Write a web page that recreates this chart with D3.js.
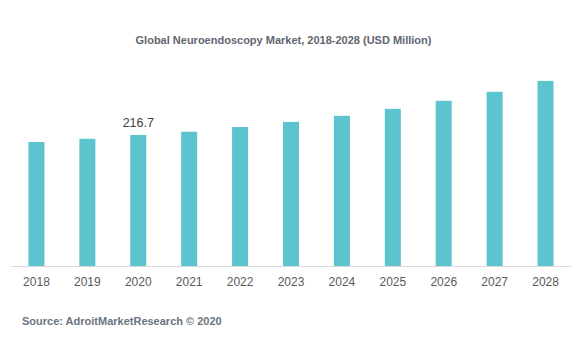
<!DOCTYPE html>
<html>
<head>
<meta charset="utf-8">
<script src="https://cdn.jsdelivr.net/npm/d3@7"></script>
<style>
  body { margin: 0; background: #fff; }
  text { font-family: "Liberation Sans", Arial, sans-serif; }
</style>
</head>
<body>
<script>
var svgWidth = 587;
var svgHeight = 339;

var years = ["2018", "2019", "2020", "2021", "2022", "2023", "2024", "2025", "2026", "2027", "2028"];
var marketValues = [205.0, 210.3, 216.7, 222.0, 229.8, 238.2, 248.3, 259.8, 273.1, 288.0, 306.0];
var labelledYears = ["2020"];

var svg = d3.select("body")
  .append("svg")
  .attr("width", svgWidth)
  .attr("height", svgHeight);

var x = d3.scaleBand().domain(years).range([11, 571]).padding(0);
var y = d3.scaleLinear().domain([0, 350]).range([266, 54.3]);
var barWidth = 16;

// title
svg.append("text")
  .attr("x", 283.5)
  .attr("y", 44)
  .attr("text-anchor", "middle")
  .attr("font-size", 11)
  .attr("font-weight", "bold")
  .attr("fill", "#5f6670")
  .text("Global Neuroendoscopy Market, 2018-2028 (USD Million)");

// bars
svg.selectAll(".bar")
  .data(marketValues)
  .enter()
  .append("rect")
  .attr("class", "bar")
  .attr("x", function(d, i) { return x(years[i]) + x.bandwidth() / 2 - barWidth / 2; })
  .attr("y", function(d) { return y(d); })
  .attr("width", barWidth)
  .attr("height", function(d) { return y(0) - y(d); })
  .attr("fill", "#5bc4ce");

// value label
svg.selectAll(".val")
  .data(marketValues.filter(function(d, i) { return labelledYears.indexOf(years[i]) >= 0; }))
  .enter()
  .append("text")
  .attr("class", "val")
  .attr("x", function(d) { return x(years[marketValues.indexOf(d)]) + x.bandwidth() / 2; })
  .attr("y", function(d) { return y(d) - 8; })
  .attr("text-anchor", "middle")
  .attr("font-size", 12.5)
  .attr("fill", "#404040")
  .text(function(d) { return d.toFixed(1); });

// x axis
var bottomAxis = d3.axisBottom(x).tickSize(0).tickPadding(11);
var axisG = svg.append("g")
  .attr("transform", "translate(0, 266)")
  .call(bottomAxis);
axisG.select(".domain").attr("stroke", "#d9d9d9").attr("stroke-width", 1.2);
axisG.selectAll("text")
  .attr("font-size", 12)
  .attr("fill", "#595959")
  .style("font-family", "Liberation Sans, Arial, sans-serif");

// source
svg.append("text")
  .attr("x", 22)
  .attr("y", 325)
  .attr("font-size", 11)
  .attr("font-weight", "bold")
  .attr("fill", "#6a7480")
  .text("Source: AdroitMarketResearch © 2020");
</script>
</body>
</html>
